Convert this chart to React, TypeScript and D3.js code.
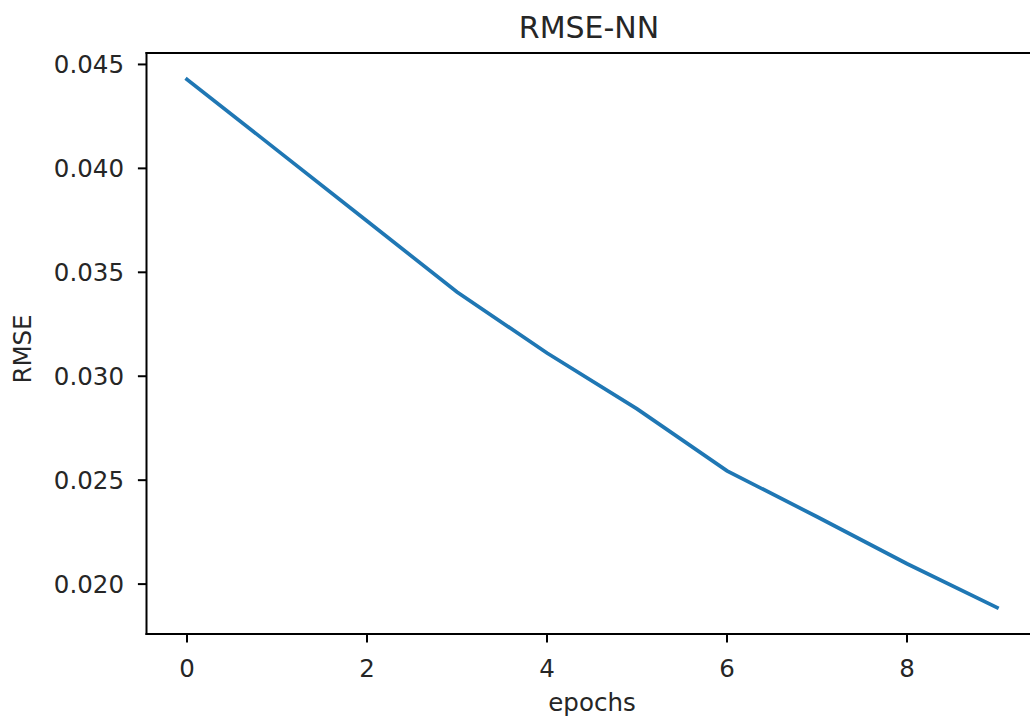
import React, { useRef, useEffect } from 'react';
import * as d3 from 'd3';

const epochs = [0, 1, 2, 3, 4, 5, 6, 7, 8, 9];
const rmse = [0.04428, 0.04088, 0.03747, 0.03405, 0.03112, 0.02843, 0.02545, 0.02324, 0.02098, 0.01887];
const xTicks = [0, 2, 4, 6, 8];
const yTicks = [0.02, 0.025, 0.03, 0.035, 0.04, 0.045];

const App = () => {
  const svgRef = useRef<SVGSVGElement | null>(null);

  useEffect(() => {
    d3.select(svgRef.current).selectAll('*').remove();
    const width = 1030;
    const height = 717;
    const svg = d3.select(svgRef.current).attr('width', width).attr('height', height);
    const font = 'DejaVu Sans, sans-serif';
    const box = { left: 146.5, right: 1037.5, top: 53, bottom: 634 };

    // matplotlib style 5% margins
    const xPad = (d3.max(epochs)! - d3.min(epochs)!) * 0.05;
    const [yMin, yMax] = d3.extent(rmse) as [number, number];
    const yPad = (yMax - yMin) * 0.05;

    const x = d3
      .scaleLinear()
      .domain([d3.min(epochs)! - xPad, d3.max(epochs)! + xPad])
      .range([box.left, box.right]);
    const y = d3
      .scaleLinear()
      .domain([yMin - yPad, yMax + yPad])
      .range([box.bottom, box.top]);

    svg.append('rect').attr('width', width).attr('height', height).attr('fill', '#fff');

    // data line
    const line = d3
      .line<number>()
      .x((d, i) => x(epochs[i]))
      .y((d) => y(d));
    svg
      .append('path')
      .datum(rmse)
      .attr('d', line)
      .attr('fill', 'none')
      .attr('stroke', '#1f77b4')
      .attr('stroke-width', 3.7)
      .attr('stroke-linecap', 'square');

    // spines (the right one falls outside the picture)
    const spines = [
      [box.left, box.top, box.left, box.bottom],
      [box.left, box.top, width, box.top],
      [box.left, box.bottom, width, box.bottom],
    ];
    spines.forEach(([x1, y1, x2, y2]) => {
      svg
        .append('line')
        .attr('x1', x1)
        .attr('y1', y1)
        .attr('x2', x2)
        .attr('y2', y2)
        .attr('stroke', '#000')
        .attr('stroke-width', 2)
        .attr('stroke-linecap', 'square');
    });

    // x ticks
    const xg = svg.append('g');
    xTicks.forEach((t) => {
      xg.append('line')
        .attr('x1', x(t))
        .attr('x2', x(t))
        .attr('y1', box.bottom)
        .attr('y2', box.bottom + 8.6)
        .attr('stroke', '#000')
        .attr('stroke-width', 2);
      xg.append('text')
        .attr('x', x(t))
        .attr('y', 677)
        .attr('text-anchor', 'middle')
        .style('font-family', font)
        .style('font-size', '24.5px')
        .attr('fill', '#262626')
        .text(d3.format('d')(t));
    });

    // y ticks
    const yg = svg.append('g');
    yTicks.forEach((t) => {
      yg.append('line')
        .attr('x1', box.left - 8.6)
        .attr('x2', box.left)
        .attr('y1', y(t))
        .attr('y2', y(t))
        .attr('stroke', '#000')
        .attr('stroke-width', 2);
      yg.append('text')
        .attr('x', 124)
        .attr('y', y(t) + 8.9)
        .attr('text-anchor', 'end')
        .style('font-family', font)
        .style('font-size', '24.5px')
        .attr('fill', '#262626')
        .text(d3.format('.3f')(t));
    });

    // labels
    svg
      .append('text')
      .attr('x', (box.left + box.right) / 2)
      .attr('y', 711)
      .attr('text-anchor', 'middle')
      .style('font-family', font)
      .style('font-size', '24.5px')
      .attr('fill', '#262626')
      .text('epochs');
    svg
      .append('text')
      .attr('transform', 'translate(31,349) rotate(-90)')
      .attr('text-anchor', 'middle')
      .style('font-family', font)
      .style('font-size', '24.5px')
      .attr('fill', '#262626')
      .text('RMSE');
    svg
      .append('text')
      .attr('x', 589)
      .attr('y', 38)
      .attr('text-anchor', 'middle')
      .style('font-family', font)
      .style('font-size', '30px')
      .attr('fill', '#262626')
      .text('RMSE-NN');
  }, []);

  return <svg ref={svgRef} style={{ position: 'absolute', left: 0, top: 0 }}></svg>;
};

export default App;
